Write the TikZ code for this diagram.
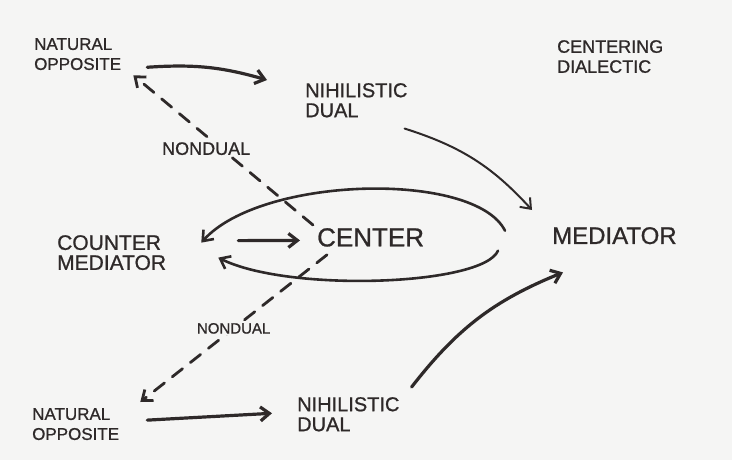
\documentclass[tikz,border=0pt]{standalone}
\usepackage{fontspec}
\setmainfont{Liberation Sans}[FakeBold=0.9]
\usepackage{tikz}
\usetikzlibrary{arrows.meta,calc}
\definecolor{ink}{HTML}{2E2929}
\definecolor{paper}{HTML}{F5F5F4}
\newcommand\hand[1]{\fontsize{#1}{20}\selectfont}
\tikzset{
  lbl/.style={inner sep=0pt, align=left, text=ink, anchor=north west},
  tag/.style={inner sep=1pt, text=ink, fill=paper},
  arr/.style={-{Straight Barb[length=9pt,width=14pt]}, draw=ink, line width=3.2pt, line cap=round},
  thin arr/.style={arr, line width=2pt},
  nd/.style={arr, line width=2.8pt, dash pattern=on 13pt off 10pt},
}

\begin{document}
\begin{tikzpicture}[x=1pt,y=-1pt]

% paper
\fill[paper] (0,0) rectangle (732,460);
\useasboundingbox (0,0) rectangle (732,460);

% ---------- labels ----------
\node[lbl,font=\hand{17}] (natA) at (34,38) {NATURAL\\OPPOSITE};
\node[lbl,font=\hand{20}] (nihA) at (305,83) {NIHILISTIC\\DUAL};
\node[lbl,font=\hand{18}] (title) at (557,40) {CENTERING\\DIALECTIC};
\node[lbl,font=\hand{21}] (cmed) at (57,235) {COUNTER\\MEDIATOR};
\node[lbl,font=\hand{26}] (center) at (317,228) {CENTER};
\node[lbl,font=\hand{24}] (med) at (552,227) {MEDIATOR};
\node[lbl,font=\hand{17}] (natB) at (32,408) {NATURAL\\OPPOSITE};
\node[lbl,font=\hand{20}] (nihB) at (297,397) {NIHILISTIC\\DUAL};

% ---------- top ----------
\draw[arr] ($(natA.south east)+(26,-3)$) to[bend left=10] ($(nihA.north west)+(-38,-3)$);
\draw[thin arr] ($(nihA.south east)+(-3,11)$) to[bend left=15] ($(med.north west)+(-20,-17)$);
\draw[nd] ($(center.north west)+(-4,-3)$) -- ($(natA.south east)+(12,5)$)
  node[tag,font=\hand{18},pos=.55,xshift=-8pt,yshift=-6pt] (ndA) {NONDUAL};

% ---------- loop ----------
\draw[arr] ($(cmed.east)+(72,-12)$) -- ($(center.west)+(-17,3)$);
\draw[arr,line width=2.6pt] ($(med.west)+(-47,-5)$)
  .. controls +(-30,-60) and +(60,-67) .. ($(cmed.east)+(35,-10)$);
\draw[arr,line width=2.6pt] ($(med.west)+(-54,15)$)
  .. controls +(-15,35) and +(70,35) .. ($(cmed.east)+(52,5)$);

% ---------- bottom ----------
\draw[nd] ($(center.south west)+(10,8)$) -- ($(natB.north east)+(21,-6)$)
  node[tag,font=\hand{15},pos=.5] (ndB) {NONDUAL};
\draw[arr] ($(natB.east)+(28,-4)$) -- ($(nihB.west)+(-25,-1)$);
\draw[arr] ($(nihB.north east)+(12,-10)$) to[bend left=15] ($(med.south west)+(11,28)$);

\end{tikzpicture}
\end{document}
